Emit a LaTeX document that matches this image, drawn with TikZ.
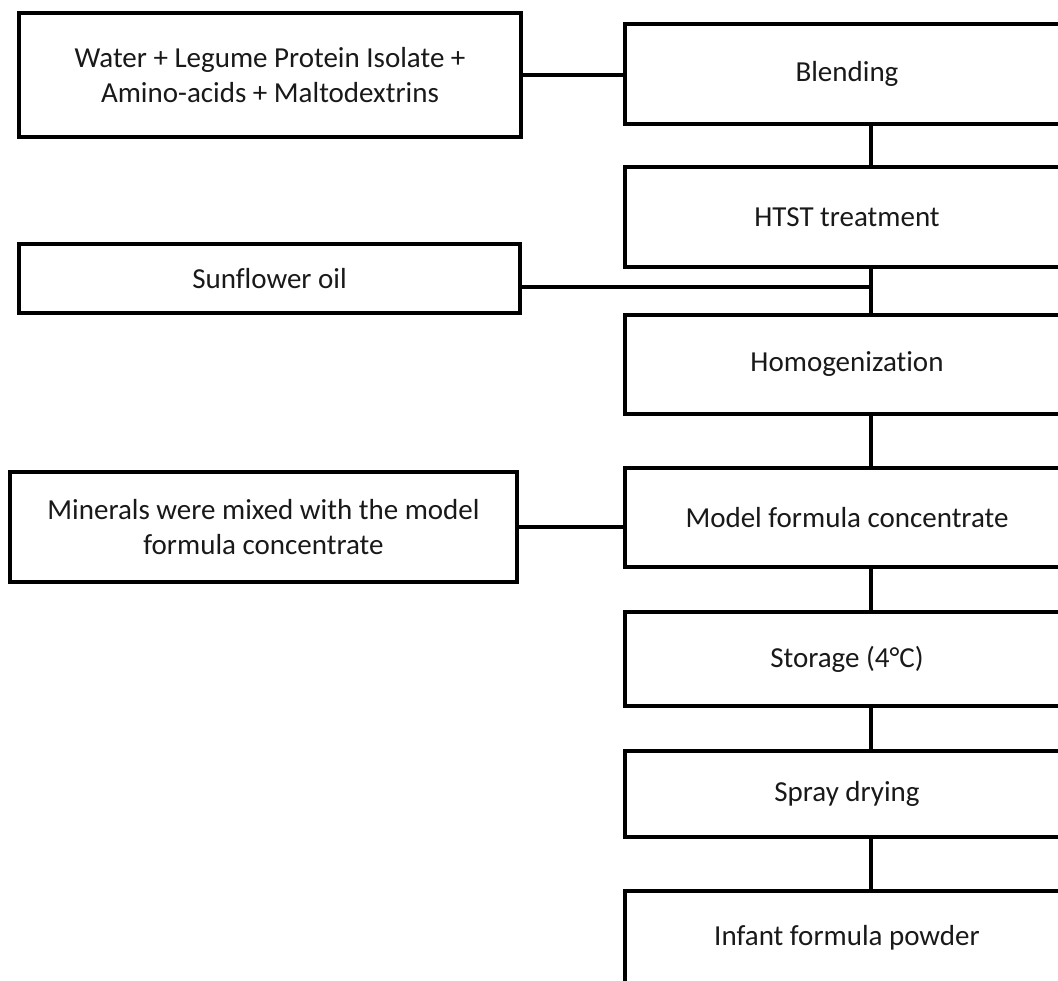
\documentclass[tikz,border=0pt]{standalone}
\usepackage{fontspec}
\setmainfont[Ligatures=NoCommon]{Carlito}
\begin{document}
\begin{tikzpicture}[x=1pt,y=-1pt,
  box/.style={draw=black, line width=4pt, fill=white, align=center, inner sep=0pt,
    text=black!90, font=\fontsize{29}{35}\selectfont},
  rbox/.style={box, minimum width=445pt},
  link/.style={line width=3.5pt}]
\useasboundingbox (0,0) rectangle (1058,981);
\clip (0,0) rectangle (1058,981);
\fill[white] (0,0) rectangle (1058,981);

% left input boxes
\node[box, minimum width=502pt, minimum height=124pt] (water) at (270,75)
  {Water + Legume Protein Isolate +\\Amino-acids + Maltodextrins};
\node[box, minimum width=501pt, minimum height=69pt] (sun) at (269.5,278.5) {Sunflower oil};
\node[box, minimum width=507pt, minimum height=110pt] (miner) at (263.5,527)
  {Minerals were mixed with the model\\formula concentrate};

% process boxes (right column)
\node[rbox, minimum height=100pt] (blend)  at (847,74)    {Blending};
\node[rbox, minimum height=100pt] (htst)   at (847,217)   {HTST treatment};
\node[rbox, minimum height=99pt]  (homog)  at (847,364.5) {Homogenization};
\node[rbox, minimum height=99pt]  (model)  at (847,517.5) {Model formula concentrate};
\node[rbox, minimum height=94pt]  (store)  at (847,659)   {Storage (4°C)};
\node[rbox, minimum height=86pt]  (spray)  at (847,794)   {Spray drying};
\node[rbox, minimum height=94pt]  (infant) at (847,938)   {Infant formula powder};

% connectors
\coordinate (cx) at (871,0);
\coordinate (j) at (871,287);
\draw[link] (blend.south -| cx) -- (htst.north -| cx);
\draw[link] (htst.south -| cx) -- (homog.north -| cx);
\draw[link] (homog.south -| cx) -- (model.north -| cx);
\draw[link] (model.south -| cx) -- (store.north -| cx);
\draw[link] (store.south -| cx) -- (spray.north -| cx);
\draw[link] (spray.south -| cx) -- (infant.north -| cx);

\draw[link] (water.east) -- (water.east -| blend.west);
\draw[link] (sun.east |- j) -- (j);
\draw[link] (miner.east) -- (miner.east -| model.west);
\end{tikzpicture}
\end{document}
